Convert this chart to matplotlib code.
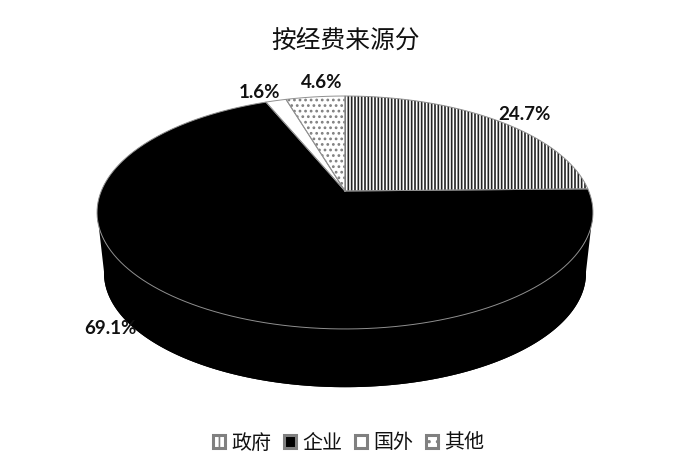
import numpy as np
import matplotlib
matplotlib.use('Agg')
import matplotlib.pyplot as plt
from matplotlib.patches import Patch

plt.rcParams['font.family'] = ['Noto Sans CJK SC', 'DejaVu Sans']
plt.rcParams['hatch.linewidth'] = 1.2

title = '按经费来源分'
names = ['政府', '企业', '国外', '其他']
shares = [24.7, 69.1, 1.6, 4.6]
share_labels = ['24.7%', '69.1%', '1.6%', '4.6%']

colors = ['white', 'black', 'white', 'white']
hatches = ['|||||', None, None, '...']
hatch_colors = ['#222222', 'black', 'white', '#808080']
label_pos = [(524, 115), (110, 329), (259, 93), (322, 82)]

# pie is tilted with some perspective, so work in pixels
cx, cy = 345, 191
a, b, k = 243.7, 112.5, 0.1845
depth, sx, sy = 61, 0.972, 0.98
edge = '#909090'


def rim(theta):
    # theta in degrees, clockwise from 12 o'clock
    t = np.radians(theta)
    u, v = np.sin(t), -np.cos(t)
    d = 1 - k * v
    return cx + a * u / d, cy + b * v / d


def rim_low(theta):
    x, y = rim(theta)
    return cx + (x - cx) * sx, cy + depth + (y - cy) * sy


fig = plt.figure(figsize=(7, 4.75), dpi=100)
ax = fig.add_axes([0, 0, 1, 1])
ax.set_xlim(0, 700)
ax.set_ylim(475, 0)
ax.axis('off')

# side wall
full = np.linspace(0, 360, 361)
ax.fill(*rim_low(full), color='black', lw=0, zorder=1)
front = np.linspace(100, 260, 161)
xt, yt = rim(front)
xl, yl = rim_low(front)
ax.fill(np.r_[xt, xl[::-1]], np.r_[yt, yl[::-1]], color='black', lw=0, zorder=1)

# top face
start = 0
for val, col, h, hc in zip(shares, colors, hatches, hatch_colors):
    end = start + val * 3.6
    th = np.linspace(start, end, max(int(val * 4), 2))
    xs, ys = rim(th)
    ax.fill(np.r_[cx, xs], np.r_[cy, ys], facecolor=col, hatch=h,
            edgecolor=hc, lw=0, zorder=2)
    ax.plot(np.r_[cx, xs, cx], np.r_[cy, ys, cy], color=edge, lw=0.7, zorder=3)
    start = end

for txt, (px, py) in zip(share_labels, label_pos):
    ax.text(px, py, txt, ha='center', va='center', fontsize=13.5,
            fontweight='bold', family='Lato', color='#111111', zorder=4)

ax.text(346, 41, title, ha='center', va='center', fontsize=17.8, color='#111111')

handles = [Patch(facecolor=c, edgecolor='#808080', hatch=h, lw=2.2)
           for c, h in zip(colors, ['|||', None, None, '..'])]
ax.legend(handles, names, loc='center', bbox_to_anchor=(348.5 / 700, 1 - 443 / 475),
          ncol=4, frameon=False, fontsize=14.4, handlelength=0.6, handleheight=0.6,
          handletextpad=0.3, columnspacing=0.65, borderpad=0, labelcolor='#111111')

fig.savefig('out.png', dpi=100, facecolor='white')
